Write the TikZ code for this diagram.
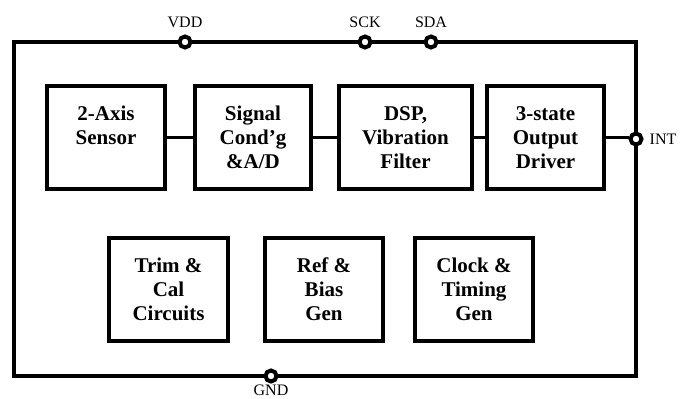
\documentclass[tikz,border=0pt]{standalone}
\usepackage{fontspec}
\setmainfont{Liberation Serif}
\usetikzlibrary{positioning}

\begin{document}
\begin{tikzpicture}[
  x=1pt, y=-1pt,
  chipframe/.style={rectangle, draw=black, line width=4pt,
                    minimum width=622pt, minimum height=334pt},
  box/.style={rectangle, draw=black, line width=3.5pt, align=center,
              minimum width=118pt, minimum height=103pt, inner sep=0pt,
              font=\fontsize{21}{24}\selectfont\bfseries},
  port/.style={circle, draw=black, fill=white, line width=4pt,
               minimum size=11pt, inner sep=0pt},
  portlabel/.style={font=\fontsize{16}{18}\selectfont, inner sep=0pt},
  wire/.style={line width=3.5pt}
]
\useasboundingbox (0,0) rectangle (683,399);

% package outline
\node[chipframe] (chip) at (325,209) {};

% signal path
\node[box] (sensor) at (106,137.5) {2-Axis\\Sensor\\\mbox{}};
\node[box, minimum width=116pt] (sigcond) at (253,137.5) {Signal\\Cond'g\\\&A/D};
\node[box, minimum width=133pt] (dsp) at (405.5,137.5) {DSP,\\Vibration\\Filter};
\node[box, minimum width=117pt] (driver) at (545.5,137.5) {3-state\\Output\\Driver};

% support blocks
\node[box, minimum width=119pt] (trim) at (168.5,289.5) {Trim \&\\Cal\\Circuits};
\node[box] (refbias) at (324,289.5) {Ref \&\\Bias\\Gen};
\node[box] (clock) at (474,289.5) {Clock \&\\Timing\\Gen};

% pins
\node[port, label={[portlabel, label distance=7pt]above:VDD}] (vdd) at (185,42) {};
\node[port, label={[portlabel, label distance=7pt]above:SCK}] (sck) at (365,42) {};
\node[port, label={[portlabel, label distance=7pt]above:SDA}] (sda) at (431,42) {};
\node[port, label={[portlabel, label distance=6pt]right:INT}] (int) at (636,139) {};
\node[port, label={[portlabel, label distance=1.5pt]below:GND}] (gnd) at (271,376) {};

\draw[wire] (sensor.east) -- (sigcond.west);
\draw[wire] (sigcond.east) -- (dsp.west);
\draw[wire] (dsp.east) -- (driver.west);
\draw[wire] (driver.east) -- (driver.east -| int.west);
\end{tikzpicture}
\end{document}
